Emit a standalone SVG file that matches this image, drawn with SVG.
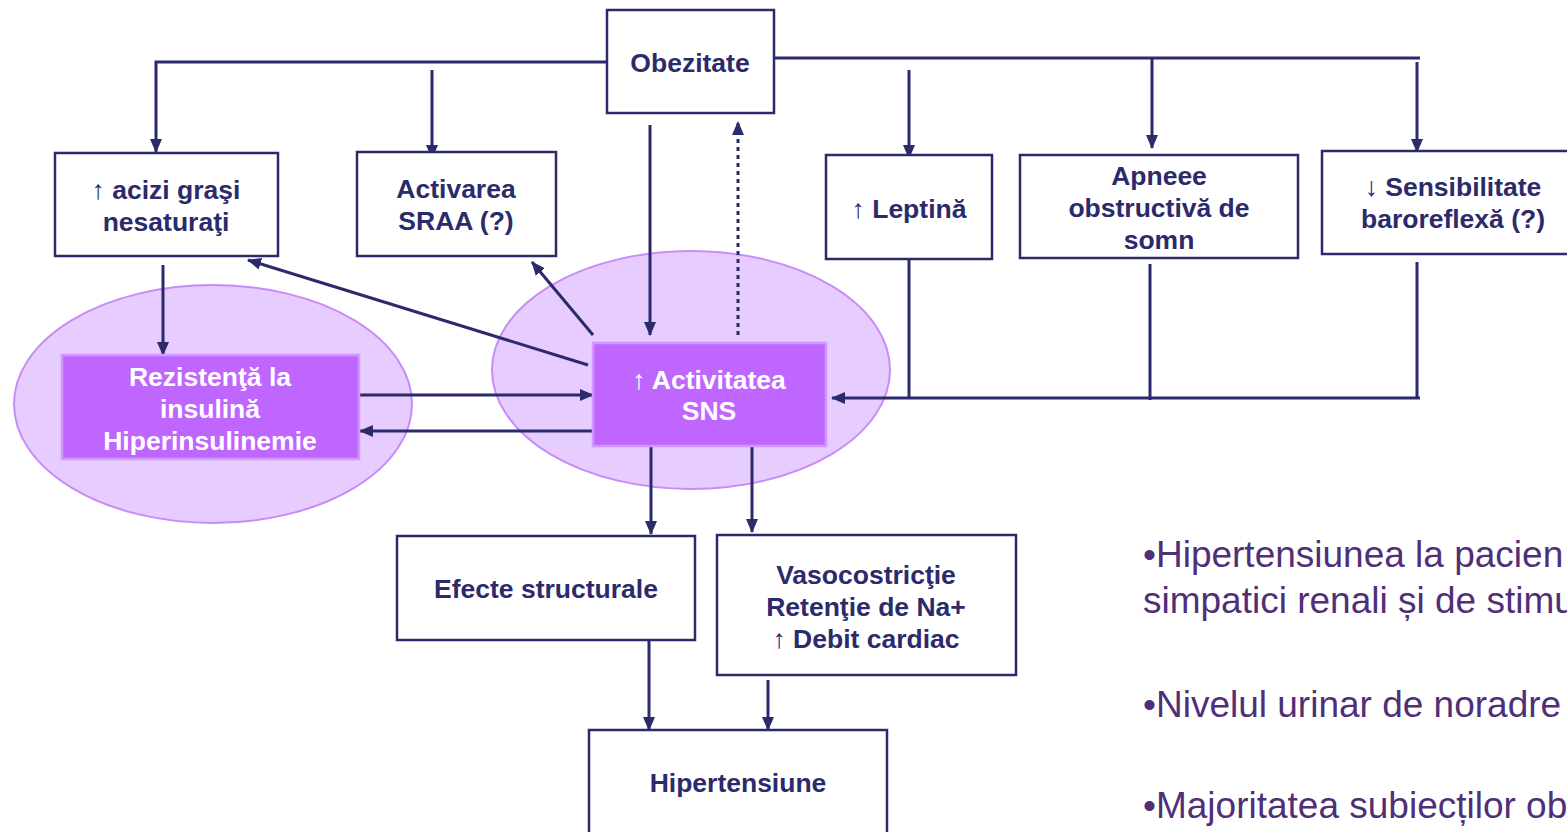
<svg xmlns="http://www.w3.org/2000/svg" width="1567" height="832" viewBox="0 0 1567 832">
<style>
.box{fill:#ffffff;stroke:#2b2a6b;stroke-width:2.5}
.pbox{fill:#bf66ff;stroke:#d199ff;stroke-width:2.5}
.halo{fill:#e6ccff;stroke:#c78cf7;stroke-width:2}
.t{font-family:"Liberation Sans",Arial,sans-serif;font-weight:bold;font-size:26.5px;fill:#2b2a6b;text-anchor:middle}
.w{fill:#ffffff}
.c{fill:none;stroke:#2b2a6b;stroke-width:3}
.a{marker-end:url(#ah)}
.d{stroke-dasharray:4 4}
.b{font-family:"Liberation Sans",Arial,sans-serif;font-size:37px;fill:#4f2f78}
</style>
<defs>
<marker id="ah" viewBox="0 0 14 12" refX="13" refY="6" markerWidth="14" markerHeight="12" orient="auto" markerUnits="userSpaceOnUse">
<path d="M0,0 L14,6 L0,12 z" fill="#2b2a6b"/>
</marker>
</defs>
<g id="halos">
<ellipse class="halo" cx="213" cy="404" rx="199" ry="119"/>
<ellipse class="halo" cx="691" cy="370" rx="199" ry="119"/>
</g>
<g id="connectors">
<path class="c a" d="M607,62 H156 V152"/>
<path class="c a" d="M432,70 V158"/>
<path class="c a" d="M650,125 V335"/>
<path class="c a d" d="M738,335 V122"/>
<path class="c" d="M774,58 H1420"/>
<path class="c a" d="M909,70 V158"/>
<path class="c a" d="M1152,58 V148"/>
<path class="c a" d="M1417,62 V152"/>
<path class="c" d="M909,259 V398"/>
<path class="c" d="M1150,264 V400"/>
<path class="c" d="M1417,262 V398"/>
<path class="c a" d="M1420,398 H832"/>
<path class="c a" d="M163,265 V355"/>
<path class="c a" d="M588,365 L248,260"/>
<path class="c a" d="M593,335 L532,262"/>
<path class="c a" d="M360,395 H593"/>
<path class="c a" d="M593,431 H360"/>
<path class="c a" d="M651,446 V534"/>
<path class="c a" d="M752,446 V532"/>
<path class="c a" d="M649,640 V730"/>
<path class="c a" d="M768,680 V730"/>
</g>
<g id="obezitate">
<rect class="box" x="607" y="10" width="167" height="103"/>
<text class="t" x="690" y="72">Obezitate</text>
</g>
<g id="acizi">
<rect class="box" x="55" y="153" width="223" height="103"/>
<text class="t" x="166" y="199">↑ acizi graşi</text>
<text class="t" x="166" y="231">nesaturaţi</text>
</g>
<g id="sraa">
<rect class="box" x="357" y="152" width="199" height="104"/>
<text class="t" x="456" y="198">Activarea</text>
<text class="t" x="456" y="230">SRAA (?)</text>
</g>
<g id="leptina">
<rect class="box" x="826" y="155" width="166" height="104"/>
<text class="t" x="909" y="218">↑ Leptină</text>
</g>
<g id="apneee">
<rect class="box" x="1020" y="155" width="278" height="103"/>
<text class="t" x="1159" y="185">Apneee</text>
<text class="t" x="1159" y="217">obstructivă de</text>
<text class="t" x="1159" y="249">somn</text>
</g>
<g id="baroreflex">
<rect class="box" x="1322" y="151" width="260" height="103"/>
<text class="t" x="1453" y="196">↓ Sensibilitate</text>
<text class="t" x="1453" y="228">baroreflexă (?)</text>
</g>
<g id="rezistenta">
<rect class="pbox" x="62" y="355" width="297" height="104"/>
<text class="t w" x="210" y="386">Rezistenţă la</text>
<text class="t w" x="210" y="418">insulină</text>
<text class="t w" x="210" y="450">Hiperinsulinemie</text>
</g>
<g id="sns">
<rect class="pbox" x="593" y="343" width="233" height="103"/>
<text class="t w" x="709" y="389">↑ Activitatea</text>
<text class="t w" x="709" y="420">SNS</text>
</g>
<g id="efecte">
<rect class="box" x="397" y="536" width="298" height="104"/>
<text class="t" x="546" y="598">Efecte structurale</text>
</g>
<g id="vaso">
<rect class="box" x="717" y="535" width="299" height="140"/>
<text class="t" x="866" y="584">Vasocostricţie</text>
<text class="t" x="866" y="616">Retenţie de Na+</text>
<text class="t" x="866" y="648">↑ Debit cardiac</text>
</g>
<g id="hipertensiune">
<rect class="box" x="589" y="730" width="298" height="110"/>
<text class="t" x="738" y="792">Hipertensiune</text>
</g>
<g id="notes">
<text class="b" x="1143" y="567">•Hipertensiunea la pacien</text>
<text class="b" x="1143" y="613">simpatici renali și de stimu</text>
<text class="b" x="1143" y="717">•Nivelul urinar de noradre</text>
<text class="b" x="1143" y="818">•Majoritatea subiecților ob</text>
</g>
</svg>
